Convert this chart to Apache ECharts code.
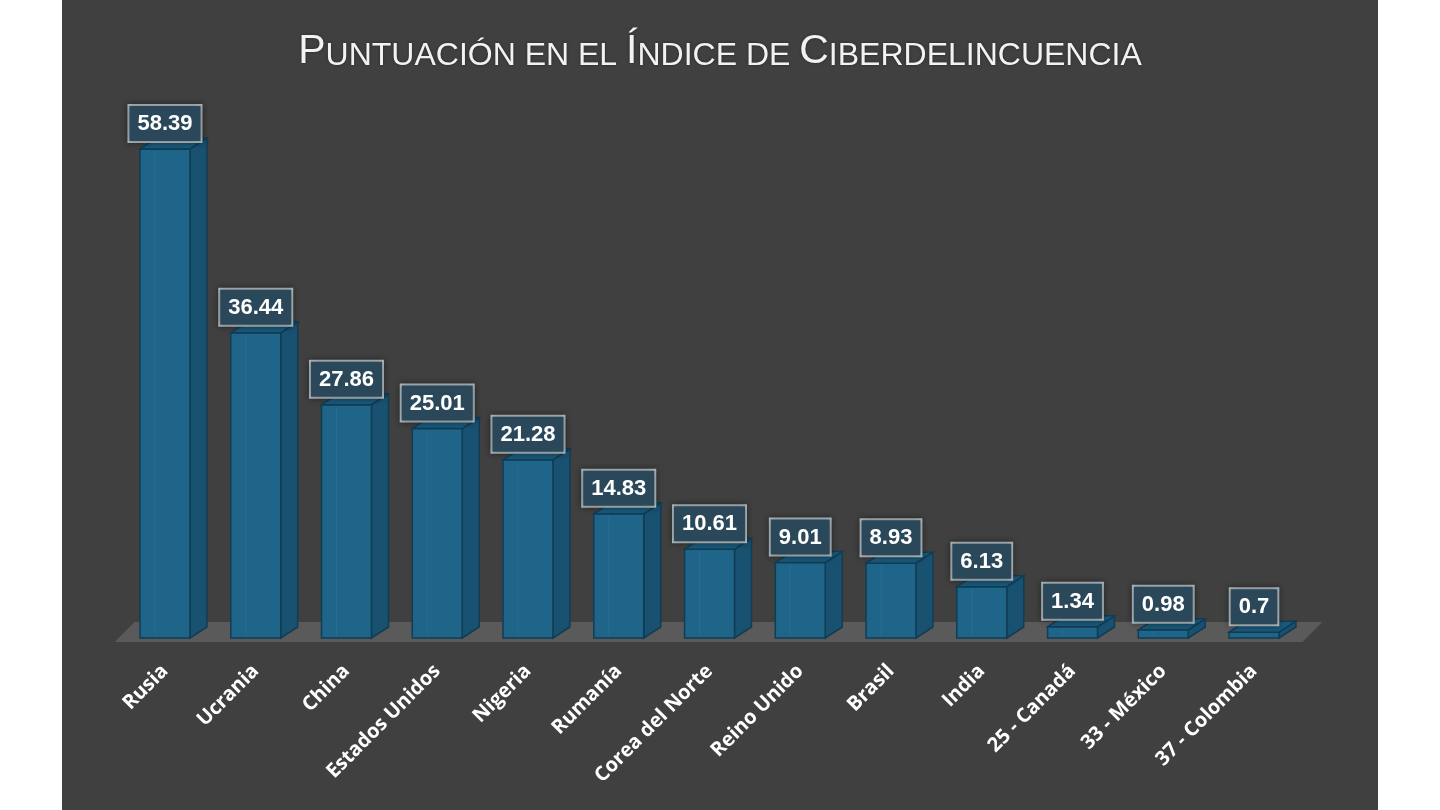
<!DOCTYPE html>
<html>
<head>
<meta charset="utf-8">
<script src="https://cdn.jsdelivr.net/npm/echarts@6/dist/echarts.min.js"></script>
<style>
html,body{margin:0;padding:0;background:#ffffff;width:1440px;height:810px;overflow:hidden;}
#chart{position:absolute;left:62px;top:0;width:1316px;height:810px;background:#404040;}
</style>
</head>
<body>
<div id="chart"></div>
<script>
const categories = ['Rusia','Ucrania','China','Estados Unidos','Nigeria','Rumanía','Corea del Norte','Reino Unido','Brasil','India','25 - Canadá','33 - México','37 - Colombia'];
const scores = [58.39, 36.44, 27.86, 25.01, 21.28, 14.83, 10.61, 9.01, 8.93, 6.13, 1.34, 0.98, 0.7];
const valueLabels = ['58.39','36.44','27.86','25.01','21.28','14.83','10.61','9.01','8.93','6.13','1.34','0.98','0.7'];

const chart = echarts.init(document.getElementById('chart'));

const DX = 17, DY = 11;

function renderBar(params, api) {
  const idx = params.dataIndex;
  const x = api.value(0), v = api.value(1);
  const base = api.coord([x, 0]);
  const top = api.coord([x, v]);
  const bw = api.size([1, 0])[0] * 0.55;
  const l = base[0] - bw / 2, r = base[0] + bw / 2;
  const t = top[1], b = base[1];
  const edge = '#113d54';
  return {
    type: 'group',
    children: [
      { type: 'polygon', shape: { points: [[r, t], [r + DX, t - DY], [r + DX, b - DY], [r, b]] },
        style: { fill: '#195171', stroke: edge, lineWidth: 1.5 } },
      { type: 'rect', shape: { x: l, y: t, width: bw, height: b - t },
        style: { fill: '#1f6589', stroke: edge, lineWidth: 1.5 } },
      { type: 'line', shape: { x1: l + bw * 0.3, y1: t + 2, x2: l + bw * 0.3, y2: b - 2 },
        style: { stroke: 'rgba(80,150,185,0.18)', lineWidth: 1 } },
      { type: 'polygon', shape: { points: [[l, t], [l + DX, t - DY], [r + DX, t - DY], [r, t]] },
        style: { fill: '#1b597a', stroke: edge, lineWidth: 1.5 } },
      { type: 'text', z2: 10,
        style: {
          x: base[0], y: t - 8,
          text: valueLabels[idx],
          align: 'center', verticalAlign: 'bottom',
          fill: '#ffffff',
          font: 'bold 22px "Liberation Sans", Arial, sans-serif',
          backgroundColor: '#2a4859',
          borderColor: '#aeb8bd', borderWidth: 2,
          padding: [7, 8, 6, 8],
          shadowBlur: 6, shadowColor: 'rgba(0,0,0,0.35)'
        } }
    ]
  };
}

function renderFloor(params, api) {
  const cs = params.coordSys;
  const yb = cs.y + cs.height + 4;
  const yt = yb - 20;
  const xl = cs.x - 5, xr = cs.x + cs.width + 3;
  return {
    type: 'polygon',
    shape: { points: [[xl, yb], [xl + 20, yt], [xr + 20, yt], [xr, yb]] },
    style: { fill: '#5a5a5a' }
  };
}

chart.setOption({
  backgroundColor: '#404040',
  animation: false,
  title: {
    left: 'center', top: 23,
    text: '{b|P}{s|UNTUACIÓN EN EL }{b|Í}{s|NDICE DE }{b|C}{s|IBERDELINCUENCIA}',
    textStyle: {
      fontWeight: 'normal',
      textShadowColor: 'rgba(0,0,0,0.4)', textShadowBlur: 3,
      rich: {
        b: { fontFamily: '"Liberation Sans", Arial, sans-serif', fontWeight: 'normal', fontSize: 41, color: '#f2f2f2', lineHeight: 44, verticalAlign: 'bottom' },
        s: { fontFamily: '"Liberation Sans", Arial, sans-serif', fontWeight: 'normal', fontSize: 32, color: '#f2f2f2', lineHeight: 36, verticalAlign: 'bottom' }
      }
    }
  },
  grid: { left: 57.6, right: 78.6, top: 135.5, bottom: 172, containLabel: false },
  xAxis: {
    type: 'category',
    data: categories,
    axisLine: { show: false },
    axisTick: { show: false },
    axisLabel: {
      interval: 0, rotate: 45, margin: 30,
      color: '#ffffff',
      fontFamily: '"Open Sans", sans-serif',
      fontWeight: 'bold', fontSize: 20
    },
    splitLine: { show: false }
  },
  yAxis: {
    type: 'value', min: 0, max: 60,
    show: false, splitLine: { show: false }
  },
  series: [
    { type: 'custom', renderItem: renderFloor, data: [[0, 0]], z: 1, silent: true },
    { type: 'custom', renderItem: renderBar, data: scores.map((v, i) => [i, v]), z: 2 }
  ]
});
</script>
</body>
</html>
